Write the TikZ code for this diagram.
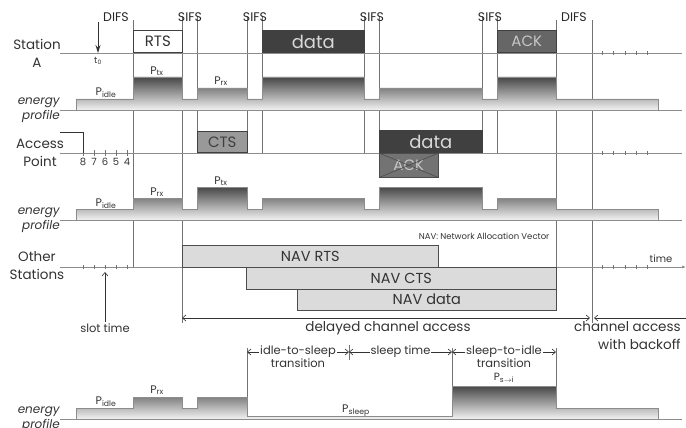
\documentclass[tikz,border=0pt]{standalone}
\usepackage{fontspec}
\setmainfont{Poppins}
\usepackage{tikz}
\usetikzlibrary{arrows.meta,positioning}
\tikzset{
    >={Straight Barb[length=3.5pt,width=6pt]},
    every picture/.style={line width=0.6pt},
    msg/.style={draw=black!75,anchor=south west,inner sep=0pt,minimum height=22pt,font=\fontsize{15}{17}\selectfont},
    nav/.style={draw=black!70,fill=black!14,anchor=north west,inner sep=0pt,minimum height=21.5pt,font=\fontsize{14.5}{16}\selectfont,text=black!80},
    profile/.style={draw=black!45,top color=black!72,bottom color=black!5}
}

\begin{document}
\begin{tikzpicture}[x=1pt,y=-1pt,
        lbl/.style={font=\fontsize{13.5}{18}\selectfont,text=black!80,align=center},
        enlbl/.style={font=\itshape\fontsize{12}{15}\selectfont,text=black!80,align=right,anchor=east,inner sep=0pt},
        ifs/.style={font=\fontsize{12.5}{14}\selectfont,text=black!85},
        pw/.style={font=\fontsize{11}{13}\selectfont,text=black!80,inner sep=1pt},
        small/.style={font=\fontsize{11.5}{14}\selectfont,text=black!80,inner sep=1pt},
        tl/.style={draw=black!45},
        vl/.style={draw=black!55},
        tick/.style={draw=black!55}]
        \useasboundingbox (0,0) rectangle (686,428);

        % vertical time marks
        \foreach \x in {197,247,262,364,379,482,497}
            \draw[vl] (\x,16) -- (\x,153);
        \draw[vl] (133,20) -- (133,267);
        \draw[vl] (182,16) -- (182,323);
        \draw[vl] (556,20) -- (556,310);
        \draw[vl] (592,20) -- (592,323);

        % interframe spaces
        \node[ifs] (difs1) at (116,17) {DIFS};
        \node[ifs] (sifs1) at (190,17) {SIFS};
        \node[ifs] (sifs2) at (255,17) {SIFS};
        \node[ifs] (sifs3) at (372,17) {SIFS};
        \node[ifs] (sifs4) at (490,17) {SIFS};
        \node[ifs] (difs2) at (574,17) {DIFS};

        % time lines
        \draw[tl] (60,53) -- (682,53);
        \draw[tl] (60,110) -- (682,110);
        \draw[tl] (60,153) -- (682,153);
        \draw[tl] (60,220) -- (682,220);
        \draw[tl,-{Latex[length=4pt,width=3pt]}] (60,267) -- (686,267);
        \draw[tl] (60,419) -- (682,419);
        \foreach \x in {602,613.5,625,636,647} {
            \draw[tick] (\x,51) -- (\x,55);
            \draw[tick] (\x,151) -- (\x,155);
            \draw[tick] (\x,265) -- (\x,269);
        }
        \foreach \x in {83,94,105,116,127} {
            \draw[tick] (\x,150) -- (\x,156);
            \draw[tick] (\x,265) -- (\x,269);
        }

        % Station A
        \node[lbl] (staA) at (37,53) {Station\\A};
        \coordinate (tzerotop) at (98,22);
        \coordinate (tzero) at (98,53);
        \draw[black!80,line width=0.8pt,-{Stealth[length=8pt,width=5pt]}] (tzerotop) -- (tzero);
        \node[font=\fontsize{9}{10}\selectfont,text=black!80] (tzerolbl) at (98,61) {t\textsubscript{0}};
        \node[msg,fill=white,minimum width=49pt,text=black!80] (rts) at (133,53) {RTS};
        \node[msg,fill=black!75,minimum width=102pt,text=black!15,font=\fontsize{18}{20}\selectfont] (dataA) at (262,53) {data};
        \node[msg,fill=black!60,minimum width=59pt,text=black!22] (ackA) at (497,53) {ACK};

        \draw[profile] (76,110) |- (133,99) |- (182,77) |- (197,99) |- (247,88) |- (262,99)
            |- (364,77) |- (379,99) |- (482,88) |- (497,99) |- (556,77) |- (658,99) -- (658,110) -- cycle;
        \node[pw] (pidleA) at (106,93) {P\textsubscript{idle}};
        \node[pw] (ptxA) at (157,71) {P\textsubscript{tx}};
        \node[pw] (prxA) at (221,81) {P\textsubscript{rx}};
        \node[enlbl] (epA) at (60,110) {energy\\profile};

        % Access Point
        \node[lbl] (ap) at (40,153) {Access\\Point};
        \draw[black!80] (60,132) -| (83,153);
        \foreach \n/\x in {8/83,7/94,6/105,5/116,4/127}
            \node[font=\fontsize{10}{12}\selectfont,text=black!80] (cnt\n) at (\x,162) {\n};
        \node[msg,fill=black!40,minimum width=50pt,minimum height=21pt,text=black!75] (cts) at (197,153) {CTS};
        \node[msg,fill=black!75,minimum width=103pt,text=black!15,font=\fontsize{18}{20}\selectfont] (dataAP) at (379,153) {data};
        \node[draw=black!70,fill=black!55,anchor=north west,inner sep=0pt,minimum width=59pt,minimum height=24pt,
            text=black!22,font=\fontsize{15}{17}\selectfont] (ackAP) at (379,153) {ACK};
        \draw[black!70] (ackAP.north west) -- (ackAP.south east) (ackAP.north east) -- (ackAP.south west);

        \draw[profile] (76,220) |- (133,209) |- (182,198) |- (197,209) |- (247,187) |- (262,209)
            |- (364,198) |- (379,209) |- (482,187) |- (497,209) |- (556,198) |- (658,209) -- (658,220) -- cycle;
        \node[pw] (pidleAP) at (106,204) {P\textsubscript{idle}};
        \node[pw] (prxAP) at (157,192) {P\textsubscript{rx}};
        \node[pw] (ptxAP) at (221,181) {P\textsubscript{tx}};
        \node[enlbl] (epAP) at (60,220) {energy\\profile};

        % Other Stations
        \node[lbl] (oth) at (37,266) {Other\\Stations};
        \node[font=\fontsize{8.5}{10}\selectfont,text=black!80,anchor=east] (navnote) at (553,236) {NAV: Network Allocation Vector};
        \node[font=\fontsize{10}{12}\selectfont,text=black!80] (timelbl) at (661,259) {time};
        \node[nav,minimum width=256pt] (navrts) at (182,245) {NAV RTS};
        \node[nav,minimum width=310pt] (navcts) at (246,267) {NAV CTS};
        \node[nav,minimum width=259pt] (navdata) at (297,288.5) {NAV data};

        \node[small] (slot) at (105,328) {slot time};
        \coordinate (slottop) at (105,272);
        \draw[black!80,->] (slot) -- (slottop);

        \coordinate (dcleft) at (182,318);
        \coordinate (dcright) at (590,318);
        \coordinate (caleft) at (594,318);
        \coordinate (caright) at (686,318);
        \draw[black!80,<->] (dcleft) -- (dcright);
        \draw[black!80,<-] (caleft) -- (caright);
        \node[lbl] (dclbl) at (388,328) {delayed channel access};
        \node[lbl,align=right,anchor=east,inner sep=0pt] (cawb) at (681,336) {channel access\\with backoff};

        % sleep profile
        \draw[vl] (247,348) -- (247,416);
        \draw[vl] (349,345) -- (349,360);
        \draw[vl] (452,348) -- (452,386);
        \draw[vl] (556,348) -- (556,386);
        \draw[profile] (76,419) |- (133,408) |- (182,397) |- (197,408) |- (247,397) |- (452,416)
            |- (556,386) |- (658,408) -- (658,419) -- cycle;
        \coordinate (its) at (247,352);
        \coordinate (ste) at (349,352);
        \coordinate (sti) at (452,352);
        \coordinate (sie) at (556,352);
        \draw[black!80,<->] (its) -- node[small,fill=white] (itslbl) {idle-to-sleep} (ste);
        \node[small,below=-2pt of itslbl] (itstr) {transition};
        \draw[black!80,<->] (ste) -- node[small,fill=white] (stlbl) {sleep time} (sti);
        \draw[black!80,<->] (sti) -- node[small,fill=white] (sitlbl) {sleep-to-idle} (sie);
        \node[small,below=-2pt of sitlbl] (sittr) {transition};
        \node[pw,font=\fontsize{10.5}{12}\selectfont] (psi) at (504,377.5) {P\textsubscript{s$\rightarrow$i}};
        \node[pw] (pidleO) at (106,402) {P\textsubscript{idle}};
        \node[pw] (prxO) at (157,390) {P\textsubscript{rx}};
        \node[pw] (psleep) at (356,411) {P\textsubscript{sleep}};
        \node[enlbl] (epO) at (60,419) {energy\\profile};
    \end{tikzpicture}
\end{document}
